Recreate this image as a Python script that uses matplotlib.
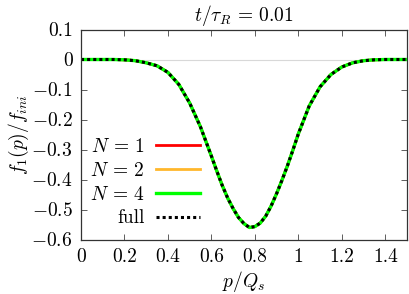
import matplotlib
matplotlib.use("Agg")
import matplotlib.pyplot as plt

plt.rcParams['mathtext.fontset'] = 'cm'
plt.rcParams['font.family'] = 'serif'
plt.rcParams['font.serif'] = ['cmr10', 'DejaVu Serif']
plt.rcParams['axes.formatter.use_mathtext'] = True
plt.rcParams['axes.unicode_minus'] = True

p = [0.0, 0.05, 0.1, 0.15, 0.2, 0.25, 0.3, 0.35, 0.4, 0.45, 0.5, 0.55, 0.6,
     0.625, 0.65, 0.675, 0.7, 0.725, 0.75, 0.775, 0.8, 0.825, 0.85, 0.875, 0.9,
     0.925, 0.95, 0.975, 1.0, 1.05, 1.1, 1.15, 1.2, 1.25, 1.3, 1.35, 1.4, 1.45, 1.5]
f_full = [0.0, 0.0, 0.0, 0.0, -0.001, -0.004, -0.011, -0.021, -0.043, -0.083, -0.145, -0.225, -0.322,
          -0.372, -0.42, -0.462, -0.497, -0.527, -0.547, -0.56, -0.557, -0.545, -0.522, -0.488, -0.447,
          -0.402, -0.354, -0.302, -0.248, -0.155, -0.091, -0.05, -0.025, -0.011, -0.004, -0.001, 0.0, 0.0, 0.0]
f_N1 = f_full
f_N2 = f_full
f_N4 = f_full

xticks = [0, 0.2, 0.4, 0.6, 0.8, 1.0, 1.2, 1.4]
xticklabels = ['0', '0.2', '0.4', '0.6', '0.8', '1', '1.2', '1.4']
yticks = [0.1, 0, -0.1, -0.2, -0.3, -0.4, -0.5, -0.6]
yticklabels = ['0.1', '0', '$-0.1$', '$-0.2$', '$-0.3$', '$-0.4$', '$-0.5$', '$-0.6$']

FS = 14

fig = plt.figure(figsize=(4.09, 2.94), dpi=100)
ax = fig.add_axes([81/409, 1-239.5/294, 326/409, 210/294])

ax.axhline(0, color='#d8d8d8', lw=0.8, zorder=0)
l1, = ax.plot(p, f_N1, color='#ff0000', lw=2.0, label='$N$ = 1')
l2, = ax.plot(p, f_N2, color='#ffb72b', lw=2.0, label='$N$ = 2')
l4, = ax.plot(p, f_N4, color='#00ff00', lw=2.4, label='$N$ = 4')
lf, = ax.plot(p, f_full, color='black', lw=2.2, ls=(0, (1, 1)), label='full')

ax.set_xlim(0, 1.5)
ax.set_ylim(-0.6, 0.1)
ax.set_xticks(xticks)
ax.set_xticklabels(xticklabels)
ax.set_yticks(yticks)
ax.set_yticklabels(yticklabels)
ax.tick_params(direction='in', top=True, right=True, length=4, width=0.6,
               labelsize=FS, color='#444444', pad=6)
for s in ax.spines.values():
    s.set_linewidth(0.9)
    s.set_color('#333333')

ax.set_title(r'$t/\tau_R$ = 0.01', fontsize=FS, pad=6)
ax.set_xlabel(r'$p/Q_s$', fontsize=FS, labelpad=2)
ax.set_ylabel(r'$f_1(p)/f_{ini}$', fontsize=FS, labelpad=0)

leg = ax.legend(handles=[l1, l2, l4, lf], loc='upper right',
                bbox_to_anchor=((200-81)/326, (239.5-138)/210), markerfirst=False, frameon=False,
                fontsize=FS, handlelength=2.27, handletextpad=0.57,
                labelspacing=0.3, borderaxespad=0, borderpad=0)
for t in leg.get_texts():
    t.set_ha('right')
leg._legend_box.align = 'right'

fig.savefig('out.png', dpi=100)
